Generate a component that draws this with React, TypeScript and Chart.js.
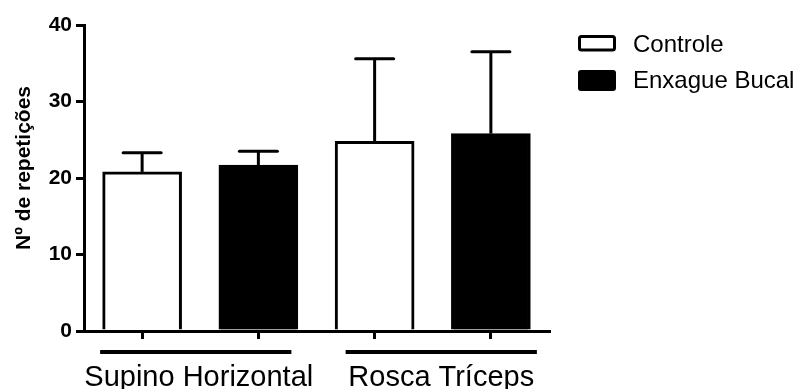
import React, { useEffect, useRef } from "react";
import { Chart, registerables } from "chart.js";

Chart.register(...registerables);

const slots = ["Supino Horizontal - Controle", "Supino Horizontal - Enxague Bucal", "Rosca Tríceps - Controle", "Rosca Tríceps - Enxague Bucal"];
const groups = ["Supino Horizontal", "Rosca Tríceps"];
const seriesNames = ["Controle", "Enxague Bucal"];
const controleMean = [20.8, 24.8];
const controleSD = [2.5, 10.8];
const enxagueMean = [21.7, 25.8];
const enxagueSD = [1.8, 10.7];
const yTicks = [0, 10, 20, 30, 40];
const yTitle = "Nº de repetições";

const FONT = "'Liberation Sans', Arial, sans-serif";

function spread(values: number[], offset: number): (number | null)[] {
  const out: (number | null)[] = slots.map(() => null);
  values.forEach((v, i) => {
    out[i * 2 + offset] = v;
  });
  return out;
}

const errorBarsPlugin = {
  id: "errorBars",
  afterDatasetsDraw(chart: any) {
    const ctx = chart.ctx;
    const yScale = chart.scales.y;
    const sds = [spread(controleSD, 0), spread(enxagueSD, 1)];
    ctx.save();
    ctx.strokeStyle = "#000";
    ctx.lineWidth = 3;
    chart.data.datasets.forEach((ds: any, di: number) => {
      const meta = chart.getDatasetMeta(di);
      meta.data.forEach((el: any, i: number) => {
        const v = ds.data[i];
        const sd = sds[di][i];
        if (v == null || sd == null) return;
        const yTop = yScale.getPixelForValue(v + sd);
        ctx.lineCap = "butt";
        ctx.beginPath();
        ctx.moveTo(el.x, el.y);
        ctx.lineTo(el.x, yTop);
        ctx.stroke();
        ctx.lineCap = "round";
        ctx.beginPath();
        ctx.moveTo(el.x - 19, yTop);
        ctx.lineTo(el.x + 19, yTop);
        ctx.stroke();
      });
    });
    ctx.restore();
  },
};

const decorPlugin = {
  id: "decor",
  afterDraw(chart: any) {
    const ctx = chart.ctx;
    const x = chart.scales.x;
    ctx.save();
    // y-axis title
    ctx.fillStyle = "#000";
    ctx.font = `bold 21px ${FONT}`;
    ctx.textAlign = "center";
    ctx.textBaseline = "middle";
    ctx.translate(24, 168);
    ctx.rotate(-Math.PI / 2);
    ctx.fillText(yTitle, 0, 0);
    ctx.restore();

    // group lines and labels
    ctx.save();
    const lineOff = [
      [-42, 33],
      [-29, 46],
    ];
    const labelShift = [3, 0];
    ctx.strokeStyle = "#000";
    ctx.lineWidth = 4;
    ctx.fillStyle = "#000";
    ctx.font = `29px ${FONT}`;
    ctx.textAlign = "center";
    ctx.textBaseline = "alphabetic";
    groups.forEach((g, gi) => {
      const a = x.getPixelForValue(gi * 2) + lineOff[gi][0];
      const b = x.getPixelForValue(gi * 2 + 1) + lineOff[gi][1];
      ctx.beginPath();
      ctx.moveTo(a, 352);
      ctx.lineTo(b, 352);
      ctx.stroke();
      ctx.fillText(g, (a + b) / 2 + labelShift[gi], 386);
    });
    ctx.restore();

    // legend
    ctx.save();
    ctx.strokeStyle = "#000";
    ctx.fillStyle = "#000";
    ctx.lineWidth = 3;
    ctx.beginPath();
    ctx.roundRect(579.5, 36.5, 35, 13.5, 2);
    ctx.stroke();
    ctx.beginPath();
    ctx.roundRect(578, 70, 38, 21, 3);
    ctx.fill();
    ctx.font = `24px ${FONT}`;
    ctx.textAlign = "left";
    ctx.textBaseline = "middle";
    ctx.fillText(seriesNames[0], 633, 45);
    ctx.fillText(seriesNames[1], 633, 81);
    ctx.restore();
  },
};

export default function App() {
  const ref = useRef<HTMLCanvasElement>(null);
  useEffect(() => {
    if (!ref.current) return;
    const chart = new Chart(ref.current, {
      type: "bar",
      data: {
        labels: slots,
        datasets: [
          {
            label: seriesNames[0],
            data: spread(controleMean, 0),
            backgroundColor: "#ffffff",
            borderColor: "#000000",
            borderWidth: 3,
            barThickness: 79,
          },
          {
            label: seriesNames[1],
            data: spread(enxagueMean, 1),
            backgroundColor: "#000000",
            borderColor: "#000000",
            borderWidth: 3,
            barThickness: 79,
          },
        ],
      },
      options: {
        responsive: false,
        animation: false,
        events: [],
        skipNull: true,
        layout: { padding: { left: 0, right: 256, top: 25, bottom: 0 } },
        plugins: {
          legend: { display: false },
          tooltip: { enabled: false },
        },
        scales: {
          x: {
            afterFit: (s: any) => {
              s.height = 58;
            },
            grid: {
              offset: false,
              drawOnChartArea: false,
              drawTicks: true,
              tickLength: 8,
              lineWidth: 3,
              color: "#000",
            },
            border: { display: true, color: "#000", width: 3 },
            ticks: { display: false },
          },
          y: {
            min: 0,
            max: 40,
            afterFit: (s: any) => {
              s.width = 84;
            },
            afterBuildTicks: (s: any) => {
              s.ticks = yTicks.map((v) => ({ value: v }));
            },
            grid: {
              drawOnChartArea: false,
              drawTicks: true,
              tickLength: 8,
              lineWidth: 3,
              color: "#000",
            },
            border: { display: true, color: "#000", width: 3 },
            ticks: {
              padding: 4,
              color: "#000",
              font: { family: FONT, size: 21, weight: "bold" },
            },
          },
        },
      },
      plugins: [errorBarsPlugin, decorPlugin],
    } as any);
    return () => chart.destroy();
  }, []);
  return (
    <div style={{ position: "fixed", left: 0, top: 0, width: 805, height: 389, background: "#fff" }}>
      <canvas ref={ref} width={805} height={389} style={{ width: 805, height: 389 }} />
    </div>
  );
}
